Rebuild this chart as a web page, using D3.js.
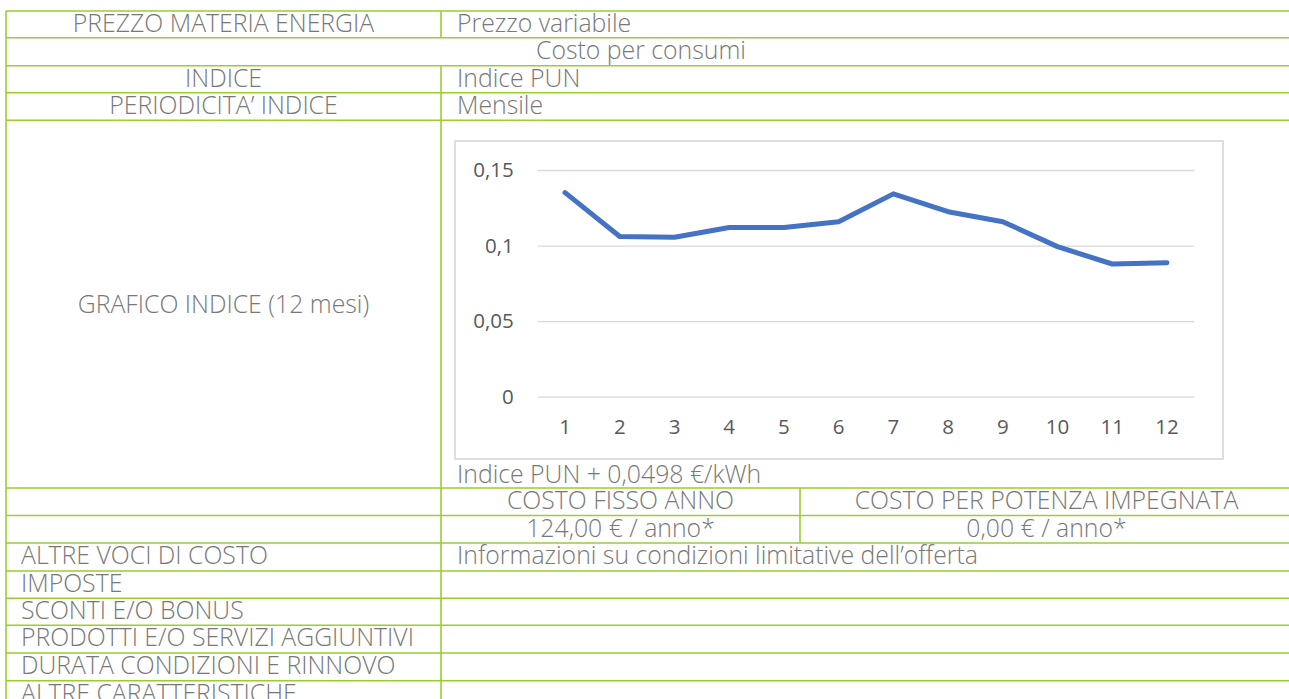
<!DOCTYPE html>
<html>
<head>
<meta charset="utf-8">
<script src="https://cdn.jsdelivr.net/npm/d3@7"></script>
<style>
  body { margin: 0; background: #fff; }
  svg { display: block; }
</style>
</head>
<body>
<div id="sheet"></div>
<script>
(function(){

    // chart data (PUN index, last 12 months)
    var months = [1, 2, 3, 4, 5, 6, 7, 8, 9, 10, 11, 12];
    var punValues = [0.135, 0.106, 0.1055, 0.112, 0.112, 0.1158, 0.1342, 0.1224, 0.1158, 0.0993, 0.0878, 0.0887];
    var yTicks = [0, 0.05, 0.1, 0.15];

    // table texts
    var leftLabels = ["PREZZO MATERIA ENERGIA", "", "INDICE", "PERIODICITA\u2019 INDICE", "GRAFICO INDICE (12 mesi)",
                      "", "", "ALTRE VOCI DI COSTO", "IMPOSTE", "SCONTI E/O BONUS",
                      "PRODOTTI E/O SERVIZI AGGIUNTIVI", "DURATA CONDIZIONI E RINNOVO", "ALTRE CARATTERISTICHE"];
    var rightLabels = ["Prezzo variabile", "", "Indice PUN", "Mensile", "Indice PUN + 0,0498 \u20ac/kWh",
                       "", "", "Informazioni su condizioni limitative dell\u2019offerta", "", "", "", "", ""];
    var mergedLabel = "Costo per consumi";
    var costHeaders = ["COSTO FISSO ANNO", "COSTO PER POTENZA IMPEGNATA"];
    var costValues = ["124,00 \u20ac / anno*", "0,00 \u20ac / anno*"];

    var W = 1289, H = 699;
    var green = "#9acd32", textGray = "#787878";
    var font = "'Open Sans', sans-serif";

    // row borders of the table
    var rowY = [11, 37.7, 65.7, 92.7, 120.3, 488, 515.5, 543, 571, 598.3, 625.3, 653, 680.7, 708];
    var xL = 6, xMid = 441, xSplit = 800, xR = 1293;

    var svg = d3.select("#sheet").append("svg")
        .attr("width", W)
        .attr("height", H);

    var grid = svg.append("g").attr("class", "table");

    // horizontal borders
    grid.selectAll("line.h")
        .data(rowY)
      .enter().append("line")
        .attr("class", "h")
        .attr("x1", xL).attr("x2", xR)
        .attr("y1", function(d) { return d; })
        .attr("y2", function(d) { return d; })
        .attr("stroke", green).attr("stroke-width", 1.6);

    // vertical borders
    var vLines = [
        [xL, rowY[0], H + 5],
        [xMid, rowY[0], rowY[1]],
        [xMid, rowY[2], H + 5],
        [xSplit, rowY[5], rowY[7]]
    ];
    grid.selectAll("line.v")
        .data(vLines)
      .enter().append("line")
        .attr("class", "v")
        .attr("x1", function(d) { return d[0]; })
        .attr("x2", function(d) { return d[0]; })
        .attr("y1", function(d) { return d[1]; })
        .attr("y2", function(d) { return d[2]; })
        .attr("stroke", green).attr("stroke-width", 1.6);

    function cellText(x, y, txt, anchor) {
        grid.append("text")
            .attr("x", x).attr("y", y)
            .attr("text-anchor", anchor)
            .attr("font-family", font)
            .attr("font-weight", 300)
            .attr("font-size", "24.8px")
            .attr("fill", textGray)
            .text(txt);
    }

    // left column: first rows centred, later rows left aligned
    leftLabels.forEach(function(t, i) {
        if (!t) return;
        if (i === 4) {
            cellText((xL + xMid) / 2, 312.5, t, "middle");
        } else if (i < 4) {
            cellText((xL + xMid) / 2, rowY[i] + 21, t, "middle");
        } else {
            cellText(21, rowY[i] + 21, t, "start");
        }
    });
    rightLabels.forEach(function(t, i) {
        if (!t) return;
        var y = i === 4 ? rowY[5] - 5.5 : rowY[i] + 21;
        cellText(457, y, t, "start");
    });
    cellText(641, rowY[1] + 21, mergedLabel, "middle");
    costHeaders.forEach(function(t, i) {
        cellText(i === 0 ? (xMid + xSplit) / 2 : (xSplit + xR) / 2, rowY[5] + 21, t, "middle");
    });
    costValues.forEach(function(t, i) {
        cellText(i === 0 ? (xMid + xSplit) / 2 : (xSplit + xR) / 2, rowY[6] + 21, t, "middle");
    });

    // ---- embedded line chart ----
    var frame = {left: 455, top: 141, right: 1223, bottom: 459};
    var plot = {left: 537.7, right: 1194.3, top: 170, bottom: 396.7};

    var chart = svg.append("g").attr("class", "chart");
    chart.append("rect")
        .attr("x", frame.left).attr("y", frame.top)
        .attr("width", frame.right - frame.left)
        .attr("height", frame.bottom - frame.top)
        .attr("fill", "#fff")
        .attr("stroke", "#d9d9d9").attr("stroke-width", 1.7);

    var x = d3.scaleBand().domain(months).range([plot.left, plot.right]);
    var y = d3.scaleLinear().domain([0, 0.15]).range([plot.bottom, plot.top]);

    var it = d3.formatLocale({decimal: ",", thousands: ".", grouping: [3], currency: ["", "\u20ac"]});
    var fmt = it.format("~g");

    var yAxis = d3.axisLeft(y)
        .tickValues(yTicks)
        .tickSize(-(plot.right - plot.left))
        .tickPadding(24)
        .tickFormat(fmt);

    chart.append("g")
        .attr("transform", "translate(" + plot.left + ",0)")
        .call(yAxis)
        .call(function(g) {
            g.select(".domain").remove();
            g.selectAll(".tick line").attr("stroke", "#d9d9d9").attr("stroke-width", 1.3);
            g.selectAll(".tick text")
                .attr("font-family", font)
                .attr("font-size", "20.5px")
                .attr("fill", "#595959");
        });

    var xAxis = d3.axisBottom(x).tickSize(0).tickPadding(23);
    chart.append("g")
        .attr("transform", "translate(0," + plot.bottom + ")")
        .call(xAxis)
        .call(function(g) {
            g.select(".domain").remove();
            g.selectAll(".tick text")
                .attr("font-family", font)
                .attr("font-size", "20.5px")
                .attr("fill", "#595959");
        });

    var line = d3.line()
        .x(function(d, i) { return x(months[i]) + x.bandwidth() / 2; })
        .y(function(d) { return y(d); });

    chart.append("path")
        .datum(punValues)
        .attr("d", line)
        .attr("fill", "none")
        .attr("stroke", "#4472c4")
        .attr("stroke-width", 5)
        .attr("stroke-linejoin", "round")
        .attr("stroke-linecap", "round");

})();
</script>
</body>
</html>
